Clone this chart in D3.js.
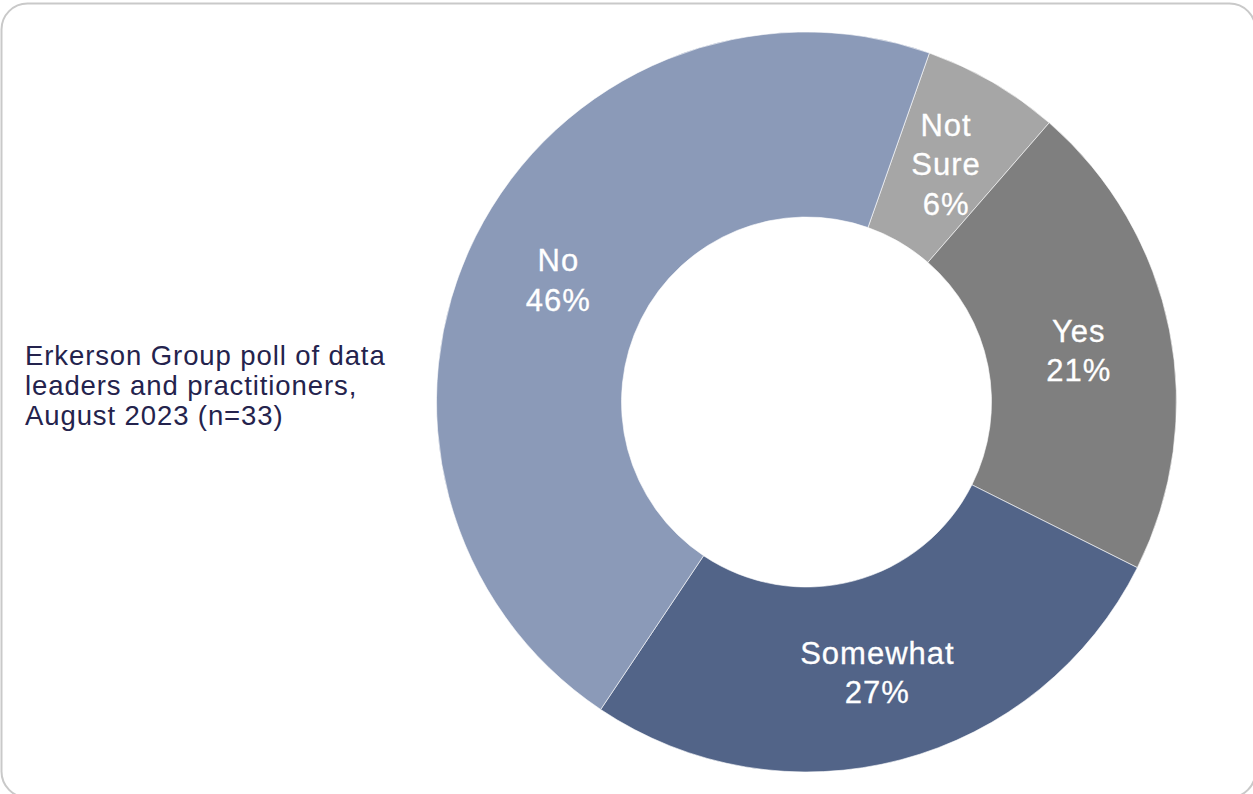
<!DOCTYPE html>
<html>
<head>
<meta charset="utf-8">
<script src="https://cdn.jsdelivr.net/npm/d3@7"></script>
<style>
  body { margin: 0; background: #fff; }
  svg { display: block; font-family: "Liberation Sans", Arial, Helvetica, sans-serif; }
</style>
</head>
<body>
<div id="chart"></div>
<script>
const categories = ["Not Sure", "Yes", "Somewhat", "No"];
const percents = [6, 21, 27, 46];
const sliceColors = ["#a6a6a6", "#7f7f7f", "#526488", "#8b9ab8"];
const noteLines = ["Erkerson Group poll of data", "leaders and practitioners,", "August 2023 (n=33)"];

const width = 1253, height = 794;
const cx = 806.5, cy = 402;
const outerR = 370, innerR = 185;

const svg = d3.select("#chart")
  .append("svg")
  .attr("width", width)
  .attr("height", height);

// card frame
svg.append("rect")
  .attr("x", 1.5)
  .attr("y", 3.5)
  .attr("width", 1254)
  .attr("height", 794)
  .attr("rx", 26)
  .attr("fill", "#fff")
  .attr("stroke", "#c9c9c9")
  .attr("stroke-width", 2);

const data = categories.map((c, i) => ({name: c, value: percents[i]}));

const color = d3.scaleOrdinal()
  .domain(categories)
  .range(sliceColors);

const start = 19.4 * Math.PI / 180;
const pie = d3.pie()
  .sort(null)
  .value(d => d.value)
  .startAngle(start)
  .endAngle(start + 2 * Math.PI);

const arc = d3.arc().innerRadius(innerR).outerRadius(outerR);
const labelArc = d3.arc().innerRadius((innerR + outerR) / 2).outerRadius((innerR + outerR) / 2);

const g = svg.append("g")
  .attr("transform", `translate(${cx},${cy})`);

const arcs = pie(data);

g.selectAll("path")
  .data(arcs)
  .join("path")
    .attr("d", arc)
    .attr("fill", d => color(d.data.name))
    .attr("stroke", "#fff")
    .attr("stroke-width", 0.6);

const lineH = 39.5;
g.selectAll("text.lbl")
  .data(arcs)
  .join("text")
    .attr("class", "lbl")
    .attr("transform", d => `translate(${labelArc.centroid(d)})`)
    .attr("text-anchor", "middle")
    .attr("fill", "#fff")
    .attr("stroke", "#fff")
    .attr("stroke-width", 0.3)
    .style("font-size", "31px")
    .style("letter-spacing", "1px")
    .each(function (d) {
      const lines = d.data.name.split(" ").concat([d.data.value + "%"]);
      const t = d3.select(this);
      const y0 = -(lines.length - 1) * lineH / 2 + 2;
      lines.forEach((s, i) => {
        t.append("tspan")
          .attr("x", 0)
          .attr("y", y0 + i * lineH)
          .attr("dy", "0.36em")
          .text(s);
      });
    });

// side note
svg.append("g")
  .selectAll("text")
  .data(noteLines)
  .join("text")
    .attr("x", 25)
    .attr("y", (d, i) => 355 + i * 30)
    .attr("dy", "0.36em")
    .attr("fill", "#24234d")
    .style("font-size", "27.5px")
    .style("letter-spacing", "0.9px")
    .text(d => d);
</script>
</body>
</html>
